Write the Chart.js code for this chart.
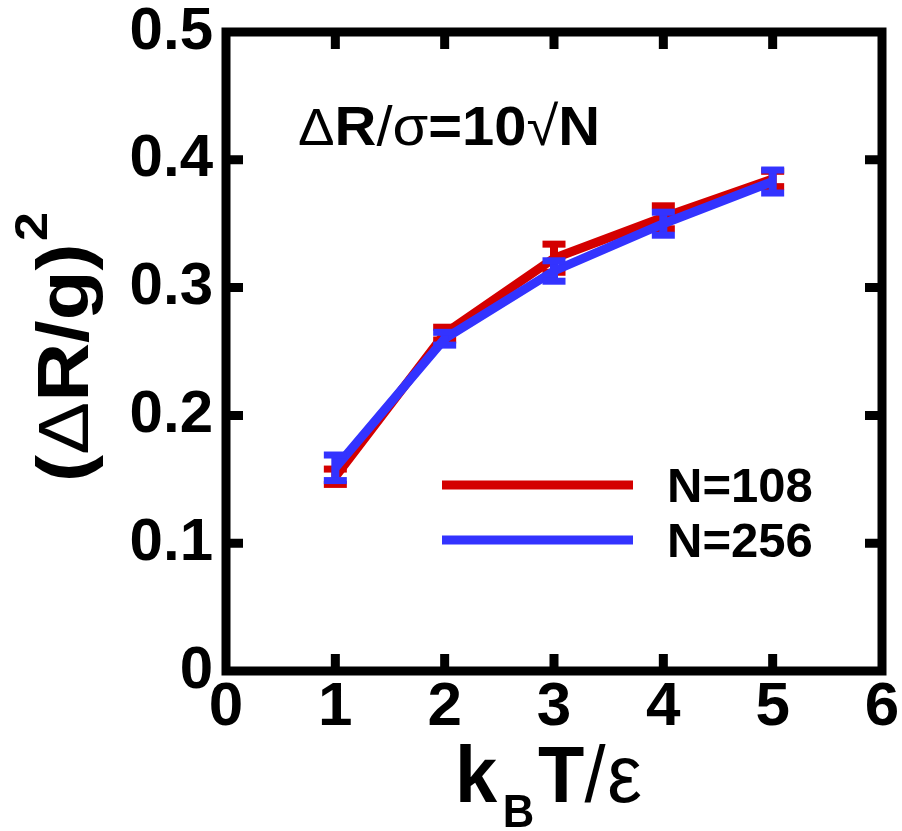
<!DOCTYPE html>
<html>
<head>
<meta charset="utf-8">
<script src="https://cdn.jsdelivr.net/npm/chart.js@4.4.1/dist/chart.umd.min.js"></script>
<style>
  html, body { margin: 0; padding: 0; background: white; }
  canvas { display: block; }
</style>
</head>
<body>
<canvas id="chart" width="902" height="831"></canvas>
<script>
// k_B T / epsilon
let temperature = [1, 2, 3, 4, 5];
// (dR/g)^2 for the two system sizes, with error bars
let rg108 = [0.152, 0.264, 0.323, 0.355, 0.385];
let err108 = [0.006, 0.005, 0.011, 0.009, 0.006];
let rg256 = [0.159, 0.260, 0.313, 0.350, 0.383];
let err256 = [0.010, 0.005, 0.008, 0.009, 0.009];

let xTicks = [0, 1, 2, 3, 4, 5, 6];
let yTicks = [0, 0.1, 0.2, 0.3, 0.4, 0.5];
let seriesNames = ["N=108", "N=256"];
let seriesColors = ["#d40000", "#3333ff"];

const SANS = '"Liberation Sans", Arial, Helvetica, sans-serif';

function toPoints(xs, ys) {
    return xs.map((x, i) => ({x: x, y: ys[i]}));
}

// draw a run of text pieces (mixed fonts / sub- and superscripts) squeezed to a width
function drawPieces(ctx, pieces, x, y, targetWidth) {
    let total = 0;
    pieces.forEach(p => {
        ctx.font = p.font;
        p.w = ctx.measureText(p.t).width;
        total += p.w + (p.gap || 0);
    });
    let sx = targetWidth ? targetWidth / total : 1;
    ctx.save();
    ctx.translate(x, y);
    ctx.scale(sx, 1);
    ctx.textBaseline = 'alphabetic';
    ctx.textAlign = 'left';
    ctx.fillStyle = '#000';
    let cx = 0;
    pieces.forEach(p => {
        ctx.font = p.font;
        ctx.fillText(p.t, cx, p.dy || 0);
        cx += p.w + (p.gap || 0);
    });
    ctx.restore();
}

const framePlugin = {
    id: 'frame',
    afterDatasetDraw(chart, args) {
        // error bars right after their own line, so the next series covers them
        const ds = chart.data.datasets[args.index];
        const xs = chart.scales.x, ys = chart.scales.y;
        const ctx = chart.ctx;
        ctx.save();
        ctx.fillStyle = ds.borderColor;
        ds.data.forEach((p, i) => {
            const px = xs.getPixelForValue(p.x);
            const top = ys.getPixelForValue(p.y + ds.errors[i]);
            const bot = ys.getPixelForValue(p.y - ds.errors[i]);
            ctx.fillRect(px - 4, top, 8, bot - top);
            ctx.fillRect(px - 11.5, top - 3.5, 23, 7);
            ctx.fillRect(px - 11.5, bot - 3.5, 23, 7);
        });
        ctx.restore();
    },
    afterDraw(chart) {
        const ctx = chart.ctx;
        const ca = chart.chartArea;
        const xs = chart.scales.x, ys = chart.scales.y;
        ctx.save();
        ctx.strokeStyle = '#000';
        ctx.lineWidth = 9;
        ctx.lineJoin = 'miter';
        ctx.strokeRect(ca.left, ca.top, ca.right - ca.left, ca.bottom - ca.top);
        // inward ticks on all four sides
        ctx.beginPath();
        xTicks.slice(1, -1).forEach(v => {
            const px = xs.getPixelForValue(v);
            ctx.moveTo(px, ca.bottom); ctx.lineTo(px, ca.bottom - 17);
            ctx.moveTo(px, ca.top); ctx.lineTo(px, ca.top + 17);
        });
        yTicks.slice(1, -1).forEach(v => {
            const py = ys.getPixelForValue(v);
            ctx.moveTo(ca.left, py); ctx.lineTo(ca.left + 17, py);
            ctx.moveTo(ca.right, py); ctx.lineTo(ca.right - 17, py);
        });
        ctx.stroke();

        // legend inside the plot
        chart.data.datasets.forEach((ds, i) => {
            const ly = 485 + i * 55;
            ctx.strokeStyle = ds.borderColor;
            ctx.lineWidth = 9;
            ctx.beginPath();
            ctx.moveTo(442, ly);
            ctx.lineTo(633, ly);
            ctx.stroke();
            ctx.fillStyle = '#000';
            ctx.font = 'bold 49px ' + SANS;
            ctx.textBaseline = 'alphabetic';
            ctx.fillText(ds.label, 667, ly + 17);
        });
        ctx.restore();

        // annotation
        drawPieces(ctx, [
            {t: '\u0394', font: '52px ' + SANS},
            {t: 'R', font: 'bold 55px ' + SANS},
            {t: '/', font: '55px ' + SANS},
            {t: '\u03c3', font: '55px ' + SANS},
            {t: '=10', font: 'bold 55px ' + SANS},
            {t: '\u221a', font: '55px ' + SANS},
            {t: 'N', font: 'bold 55px ' + SANS}
        ], 298, 145, 302);

        // x axis title: k_B T / epsilon
        drawPieces(ctx, [
            {t: 'k', font: 'bold 80px ' + SANS, gap: 6},
            {t: 'B', font: 'bold 46px ' + SANS, dy: 25, gap: 4},
            {t: 'T', font: 'bold 80px ' + SANS},
            {t: '/', font: '80px ' + SANS, gap: 2},
            {t: '\u03b5', font: '82px ' + SANS}
        ], 455, 802, 187);

        // y axis title: (dR/g)^2, rotated
        ctx.save();
        ctx.translate(88, 482);
        ctx.rotate(-Math.PI / 2);
        drawPieces(ctx, [
            {t: '(', font: 'bold 72px ' + SANS},
            {t: '\u0394', font: '70px ' + SANS},
            {t: 'R/g)', font: 'bold 72px ' + SANS, gap: 2},
            {t: '2', font: 'bold 46px ' + SANS, dy: -41}
        ], 0, 0, 270);
        ctx.restore();
    }
};

const plot = new Chart(document.getElementById('chart'), {
    type: 'line',
    data: {
        datasets: [{
            label: seriesNames[0],
            data: toPoints(temperature, rg108),
            errors: err108,
            borderColor: seriesColors[0],
            borderWidth: 9,
            pointRadius: 0,
            order: 1
        },
        {
            label: seriesNames[1],
            data: toPoints(temperature, rg256),
            errors: err256,
            borderColor: seriesColors[1],
            borderWidth: 9,
            pointRadius: 0,
            order: 0
        }]
    },
    options: {
        responsive: false,
        animation: false,
        layout: {
            padding: {top: 32, right: 20, left: 0, bottom: 0}
        },
        scales: {
            x: {
                type: 'linear',
                min: 0,
                max: 6,
                afterBuildTicks: s => { s.ticks = xTicks.map(v => ({value: v})); },
                afterFit: s => { s.height = 160; s.paddingLeft = 0; s.paddingRight = 0; },
                grid: {display: false, drawTicks: false},
                border: {display: false},
                ticks: {
                    color: '#000',
                    padding: 6,
                    maxRotation: 0,
                    font: {family: SANS, size: 62, weight: 'bold', lineHeight: 1},
                    callback: v => String(v)
                }
            },
            y: {
                type: 'linear',
                min: 0,
                max: 0.5,
                afterBuildTicks: s => { s.ticks = yTicks.map(v => ({value: v})); },
                afterFit: s => { s.width = 226; s.paddingTop = 0; s.paddingBottom = 0; },
                grid: {display: false, drawTicks: false},
                border: {display: false},
                ticks: {
                    color: '#000',
                    padding: 13,
                    font: {family: SANS, size: 60, weight: 'bold', lineHeight: 1},
                    callback: v => v === 0 ? '0' : v.toFixed(1)
                }
            }
        },
        plugins: {
            legend: {display: false},
            tooltip: {enabled: false}
        }
    },
    plugins: [framePlugin]
});
</script>
</body>
</html>
